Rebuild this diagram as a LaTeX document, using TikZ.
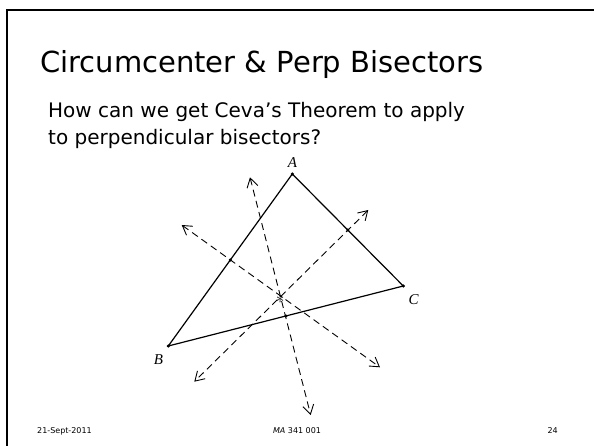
\documentclass[tikz,border=0pt]{standalone}
\usepackage{fontspec}
\setmainfont{DejaVu Sans}
\newfontfamily\letterfont{Liberation Serif}
\usetikzlibrary{calc,arrows.meta}

\tikzset{
  bisector/.style={dashed, dash pattern=on 7pt off 4.5pt, line width=0.9pt,
    {Straight Barb[length=9pt,width=11pt,line width=0.9pt]}-{Straight Barb[length=9pt,width=11pt,line width=0.9pt]}},
  side/.style={line width=1.2pt},
  pt/.style={circle, fill, inner sep=0pt, minimum size=3.4pt},
  vlabel/.style={font=\letterfont\itshape\fontsize{15}{15}\selectfont, inner sep=0pt},
  body/.style={anchor=base west, font=\fontsize{20}{24}\selectfont, inner sep=0pt},
  foot/.style={font=\fontsize{8}{9}\selectfont, inner sep=0pt}
}

\begin{document}
\begin{tikzpicture}[x=1pt, y=-1pt]
    \useasboundingbox (0,0) rectangle (594,446);
    % slide frame
    \draw[line width=2.6pt] (7,450) -- (7,10) -- (600,10);

    % title and question
    \node[anchor=base west, font=\fontsize{29}{32}\selectfont, inner sep=0pt] (title) at (40,73) {Circumcenter \& Perp Bisectors};
    \node[body] (question) at (48,118) {How can we get Ceva's Theorem to apply};
    \node[body] (question2) at (48,145) {to perpendicular bisectors?};

    % triangle
    \coordinate (A) at (292.3,174);
    \coordinate (B) at (168.3,346);
    \coordinate (C) at (403.3,286);
    \coordinate (O) at (280.3,296.5);
    \draw[side] (A) -- (B) -- (C) -- cycle;
    \node[pt] (a) at (A) {};
    \node[pt] (b) at (B) {};
    \node[pt] (c) at (C) {};
    \node[pt] (mab) at ($(A)!0.5!(B)$) {};
    \node[pt] (mac) at ($(A)!0.5!(C)$) {};
    \node[pt] (mbc) at ($(B)!0.5!(C)$) {};
    \node[vlabel] (la) at (292.5,163) {A};
    \node[vlabel] (lb) at (158.5,360) {B};
    \node[vlabel] (lc) at (413.5,299.5) {C};

    % perpendicular bisectors
    \coordinate (ab1) at (181.7,225);
    \coordinate (ab2) at (380,367.3);
    \coordinate (ac1) at (368.3,210);
    \coordinate (ac2) at (194.3,381.7);
    \coordinate (bc1) at (250,177.3);
    \coordinate (bc2) at (310.7,415);
    \draw[bisector] (ab1) -- (ab2);
    \draw[bisector] (ac1) -- (ac2);
    \draw[bisector] (bc1) -- (bc2);
    \node[inner sep=0pt, font=\fontsize{17}{17}\selectfont] (star) at ($(O)+(0,2.5)$) {$\ast$};

    % footer
    \node[foot, anchor=base west] (date) at (37,433) {21-Sept-2011};
    \node[foot, anchor=base] (course) at (297,433) {\textit{MA} 341 001};
    \node[foot, anchor=base east] (page) at (558,433) {24};
\end{tikzpicture}
\end{document}
